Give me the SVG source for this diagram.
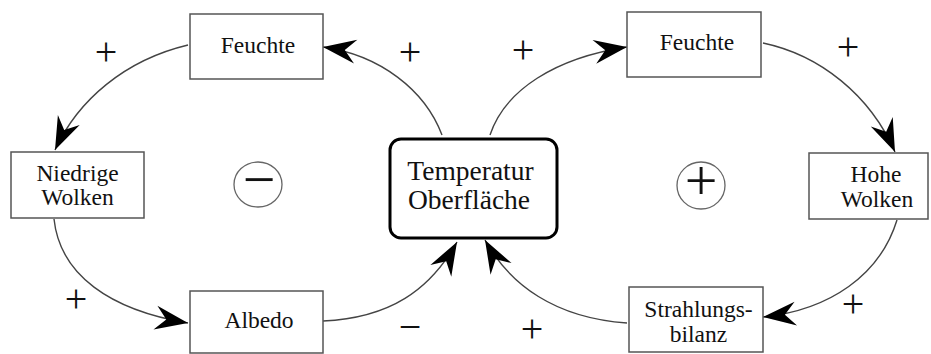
<svg xmlns="http://www.w3.org/2000/svg" width="931" height="354" viewBox="0 0 931 354">
<style>
.box{fill:#fff;stroke:#555;stroke-width:1.5}
.main{fill:#fff;stroke:#000;stroke-width:3}
.t{font-family:"Liberation Serif",serif;font-size:23.5px;fill:#111;text-anchor:middle}
.tm{font-family:"Liberation Serif",serif;font-size:27.5px;fill:#111;text-anchor:middle}
.sg{font-family:"Liberation Serif",serif;font-size:40px;fill:#111;text-anchor:middle}
.cs{font-family:"Liberation Serif",serif;font-size:58px;fill:#111;text-anchor:middle}
.c{fill:none;stroke:#444;stroke-width:1.4}
.ring{fill:#fff;stroke:#666;stroke-width:1.3}
</style>
<defs>
<marker id="ah" viewBox="-35 -13 36 26" markerWidth="36" markerHeight="26" refX="0" refY="0" orient="auto" markerUnits="userSpaceOnUse">
<path d="M0,0 L-33,-12 L-22,0 L-33,12 Z" fill="#000"/>
</marker>
</defs>
<g id="connectors">
<path class="c" d="M442,135 C425,90 380,55 323,47" marker-end="url(#ah)"/>
<path class="c" d="M188,45 C125,60 78,100 55,150" marker-end="url(#ah)"/>
<path class="c" d="M54,219 C60,275 110,310 188,323" marker-end="url(#ah)"/>
<path class="c" d="M323,321 C390,318 430,290 457,242" marker-end="url(#ah)"/>
<path class="c" d="M490,135 C505,90 555,58 627,47" marker-end="url(#ah)"/>
<path class="c" d="M763,43 C820,55 870,95 895,152" marker-end="url(#ah)"/>
<path class="c" d="M897,220 C880,275 830,310 763,317" marker-end="url(#ah)"/>
<path class="c" d="M627,323 C555,318 510,285 485,240" marker-end="url(#ah)"/>
</g>
<g id="labels">
<text class="sg" x="106" y="65">+</text>
<text class="sg" x="410" y="65">+</text>
<text class="sg" x="523" y="63">+</text>
<text class="sg" x="848" y="60">+</text>
<text class="sg" x="76" y="312">+</text>
<text class="sg" x="410" y="340">−</text>
<text class="sg" x="532" y="342">+</text>
<text class="sg" x="853" y="317">+</text>
</g>
<g id="feuchte-left">
<rect class="box" x="190" y="14" width="133" height="65"/>
<text class="t" x="258" y="53">Feuchte</text>
</g>
<g id="niedrige-wolken">
<rect class="box" x="11" y="152" width="133" height="66"/>
<text class="t" x="77.5" y="181">Niedrige</text>
<text class="t" x="77.5" y="205">Wolken</text>
</g>
<g id="albedo">
<rect class="box" x="190" y="291" width="133" height="62"/>
<text class="t" x="259" y="328">Albedo</text>
</g>
<g id="temperatur">
<rect class="main" x="390" y="139" width="167" height="99" rx="11"/>
<text class="tm" x="470.5" y="180">Temperatur</text>
<text class="tm" x="469" y="209">Oberfläche</text>
</g>
<g id="feuchte-right">
<rect class="box" x="627" y="12" width="134" height="65"/>
<text class="t" x="697" y="50">Feuchte</text>
</g>
<g id="hohe-wolken">
<rect class="box" x="809" y="153" width="119" height="66"/>
<text class="t" x="876" y="182">Hohe</text>
<text class="t" x="877" y="207">Wolken</text>
</g>
<g id="strahlungsbilanz">
<rect class="box" x="629" y="287" width="134" height="65"/>
<text class="t" x="698.5" y="317">Strahlungs-</text>
<text class="t" x="698.5" y="342">bilanz</text>
</g>
<g id="loop-negative">
<ellipse class="ring" cx="258" cy="184.5" rx="24" ry="22.5"/>
<text class="cs" x="259" y="199">−</text>
</g>
<g id="loop-positive">
<ellipse class="ring" cx="701" cy="185.5" rx="24" ry="23.5"/>
<text class="cs" x="701" y="200">+</text>
</g>
</svg>
